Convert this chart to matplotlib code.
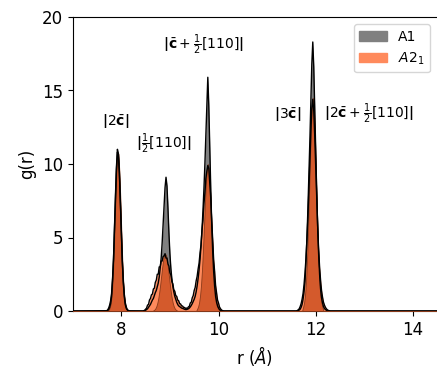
import numpy as np
import matplotlib
matplotlib.use('Agg')
import matplotlib.pyplot as plt
from matplotlib.patches import Patch

# Data (g(r), three peak regions, zero elsewhere)
r_a = np.round(np.arange(7.70, 8.161, 0.02), 2)
r_b = np.round(np.arange(8.44, 10.121, 0.02), 2)
r_c = np.round(np.arange(11.60, 12.301, 0.02), 2)

a1_a = [0, 0.03, 0.1, 0.25, 0.5, 1.0, 2.1, 3.5, 5.7, 7.9, 9.8, 11.0,
        10.7, 9.5, 7.6, 5.4, 3.4, 2.0, 1.0, 0.45, 0.2, 0.08, 0.03, 0]
a2_a = [0.02, 0.08, 0.2, 0.4, 0.7, 1.2, 2.2, 3.6, 5.6, 7.7, 9.6, 10.8,
        10.6, 9.4, 7.5, 5.4, 3.5, 2.1, 1.2, 0.6, 0.3, 0.12, 0.05, 0.01]
fit_a = [0, 0.02, 0.07, 0.2, 0.47, 1.0, 2.0, 3.5, 5.5, 7.7, 9.5, 10.7,
         10.7, 9.5, 7.7, 5.5, 3.5, 2.0, 1.0, 0.47, 0.2, 0.07, 0.02, 0]

a1_b = [0, 0, 0.02, 0.05, 0.1, 0.15, 0.25, 0.35, 0.45, 0.6,
        0.75, 0.85, 1.05, 1.25, 1.4, 1.65, 1.9, 2.3, 2.9, 3.6,
        4.6, 5.9, 7.2, 8.4, 9.1, 8.5, 7.0, 5.3, 3.9, 2.9,
        2.2, 1.7, 1.3, 1.0, 0.8, 0.6, 0.45, 0.35, 0.3, 0.25,
        0.2, 0.18, 0.15, 0.12, 0.1, 0.1, 0.12, 0.15, 0.2, 0.28,
        0.38, 0.5, 0.65, 0.8, 1.0, 1.3, 1.7, 2.2, 2.8, 3.5,
        4.4, 5.5, 6.8, 8.3, 10.0, 12.0, 14.2, 15.9, 14.0, 11.2,
        8.4, 6.0, 4.1, 2.7, 1.7, 1.0, 0.6, 0.35, 0.2, 0.1,
        0.05, 0.02, 0.01, 0, 0]
a2_b = [0, 0.02, 0.05, 0.12, 0.2, 0.4, 0.45, 0.75, 0.85, 1.1,
        1.15, 1.5, 1.55, 1.95, 2.1, 2.5, 2.5, 3.0, 3.0, 3.4,
        3.4, 3.7, 3.75, 3.9, 3.6, 3.6, 3.2, 3.05, 2.6, 2.45,
        2.0, 1.85, 1.45, 1.35, 1.05, 1.0, 0.75, 0.7, 0.5, 0.48,
        0.35, 0.34, 0.25, 0.24, 0.18, 0.2, 0.17, 0.28, 0.32, 0.55,
        0.6, 0.9, 1.05, 1.4, 1.6, 2.05, 2.35, 2.85, 3.25, 3.95,
        4.5, 5.5, 6.2, 7.3, 8.0, 9.0, 9.5, 9.9, 9.7, 8.7,
        7.7, 6.1, 4.9, 3.5, 2.7, 1.75, 1.25, 0.75, 0.55, 0.28,
        0.16, 0.08, 0.03, 0.01, 0]
fit_b = [0, 0, 0, 0, 0, 0, 0, 0, 0, 0,
         0, 0.04, 0.09, 0.17, 0.31, 0.53, 0.84, 1.27, 1.79, 2.37,
         2.94, 3.44, 3.78, 3.9, 3.78, 3.44, 2.94, 2.37, 1.79, 1.27,
         0.84, 0.53, 0.31, 0.17, 0.09, 0.04, 0, 0, 0, 0,
         0, 0, 0, 0, 0, 0, 0, 0, 0, 0,
         0, 0, 0, 0, 0, 0, 0.14, 0.29, 0.56, 1.03,
         1.74, 2.78, 4.11, 5.66, 7.27, 8.68, 9.65, 10.0, 9.65, 8.68,
         7.27, 5.66, 4.11, 2.78, 1.74, 1.03, 0.56, 0.29, 0.14, 0,
         0, 0, 0, 0, 0]

a1_c = [0, 0.01, 0.03, 0.06, 0.12, 0.25, 0.45, 0.8, 1.3, 2.0,
        3.4, 5.0, 7.0, 9.3, 11.6, 14.3, 16.8, 18.3, 16.6, 13.8,
        11.0, 8.2, 5.8, 3.9, 2.5, 1.5, 0.9, 0.55, 0.3, 0.17,
        0.1, 0.05, 0.02, 0.01, 0, 0]
a2_c = [0, 0.03, 0.08, 0.15, 0.3, 0.5, 0.8, 1.2, 1.8, 2.6,
        3.6, 4.9, 6.4, 8.2, 10.2, 12.2, 13.8, 14.4, 13.6, 11.9,
        9.8, 7.7, 5.8, 4.2, 3.0, 2.1, 1.4, 0.95, 0.6, 0.4,
        0.25, 0.15, 0.08, 0.04, 0.02, 0]
fit_c = [0, 0, 0, 0, 0, 0, 0, 0.25, 0.54, 1.06,
         1.96, 3.33, 5.22, 7.55, 10.05, 12.3, 13.9, 14.5, 13.9, 12.3,
         10.05, 7.55, 5.22, 3.33, 1.96, 1.06, 0.54, 0.25, 0, 0,
         0, 0, 0, 0, 0, 0]

labels = [r'$\mathbf{|}2\bar{\mathbf{c}}\mathbf{|}$',
          r'$\mathbf{|}\frac{1}{2}[110]\mathbf{|}$',
          r'$\mathbf{|}\bar{\mathbf{c}}+\frac{1}{2}[110]\mathbf{|}$',
          r'$\mathbf{|}3\bar{\mathbf{c}}\mathbf{|}$',
          r'$\mathbf{|}2\bar{\mathbf{c}}+\frac{1}{2}[110]\mathbf{|}$']
label_r = [7.88, 8.88, 9.68, 11.42, 13.1]
label_g = [12.9, 11.4, 18.1, 13.4, 13.4]

r = np.concatenate([[7.0], r_a, r_b, r_c, [14.5]])
a1 = np.concatenate([[0], a1_a, a1_b, a1_c, [0]])
a2 = np.concatenate([[0], a2_a, a2_b, a2_c, [0]])
fit = np.concatenate([[0], fit_a, fit_b, fit_c, [0]])

# Plot
plt.rc('font', size=12)
plt.rc('xtick', labelsize=12)
plt.rc('ytick', labelsize=12)
fig = plt.figure(figsize=(4.37, 3.72), dpi=100)
ax = fig.add_axes([72.7/437, 61/372, 364.5/437, 294/372])

ax.fill_between(r, 0, a1, color='gray', lw=0, zorder=1)
ax.fill_between(r, 0, a2, color='#ff8a5c', lw=0, zorder=2)
ax.fill_between(r, 0, fit, color='#d45a2c', edgecolor='#8a3a1a',
                lw=0.6, zorder=3)
ax.plot(r, a2, color='black', lw=1.0, zorder=4)
ax.plot(r, a1, color='black', lw=1.0, zorder=5)

for lab, x, y in zip(labels, label_r, label_g):
    ax.text(x, y, lab, ha='center', va='center', fontsize=10)

handles = [Patch(color='gray', label='A1'),
           Patch(color='#ff8a5c', label=r'$A2_1$')]
ax.legend(handles=handles, loc='upper right', fontsize=10)

ax.set_xlim(7, 14.5)
ax.set_ylim(0, 20)
ax.set_xticks([8, 10, 12, 14])
ax.set_yticks([0, 5, 10, 15, 20])
ax.set_xlabel(r'r ($\AA$)')
ax.set_ylabel('g(r)')
ax.spines['right'].set_visible(False)
plt.savefig('out.png', dpi=100)
